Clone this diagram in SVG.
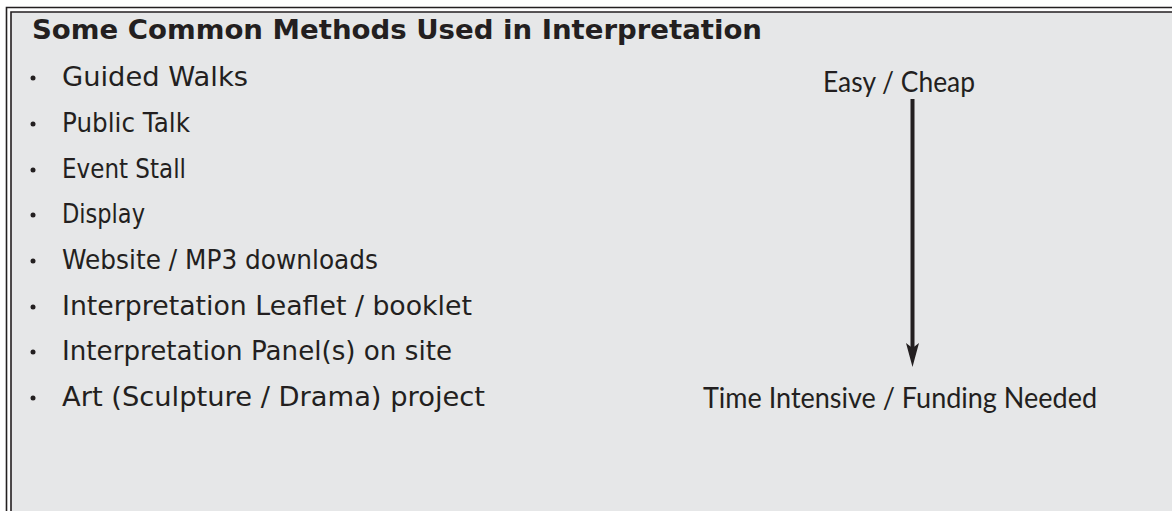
<svg xmlns="http://www.w3.org/2000/svg" width="1172" height="511" viewBox="0 0 1172 511">
<style>
.frame{fill:none;stroke:#231f20;stroke-width:1.6}
.title{font-family:"DejaVu Sans",sans-serif;font-weight:bold;font-size:26px;fill:#231f20}
.item{font-family:"DejaVu Sans",sans-serif;font-size:27px;fill:#231f20}
.label{font-family:"Lato","Open Sans",sans-serif;font-size:28px;fill:#231f20}
.bullet{fill:#231f20}
.conn{stroke:#231f20;stroke-width:4;fill:none}
</style>
<defs>
<marker id="ah" viewBox="0 0 24 13" refX="5" refY="6.5" markerWidth="24" markerHeight="13" markerUnits="userSpaceOnUse" orient="auto">
<path d="M0,0 L5,6.5 L0,13 L24,6.5 Z" fill="#231f20"/>
</marker>
</defs>
<rect x="0" y="0" width="1172" height="511" fill="#ffffff"/>
<g id="panel">
<rect x="11" y="12" width="1170" height="510" fill="#e6e7e8"/>
<path class="frame" d="M6.5,520 V7.5 H1180"/>
<path class="frame" d="M11,520 V12 H1180"/>
</g>
<g id="title">
<text class="title" x="32" y="39" textLength="730" lengthAdjust="spacingAndGlyphs">Some Common Methods Used in Interpretation</text>
</g>
<g id="list">
<circle class="bullet" cx="33" cy="78" r="2.5"/>
<text class="item" x="62" y="86" textLength="186" lengthAdjust="spacingAndGlyphs">Guided Walks</text>
<circle class="bullet" cx="33" cy="124" r="2.5"/>
<text class="item" x="62" y="132" textLength="128" lengthAdjust="spacingAndGlyphs">Public Talk</text>
<circle class="bullet" cx="33" cy="170" r="2.5"/>
<text class="item" x="62" y="178" textLength="124" lengthAdjust="spacingAndGlyphs">Event Stall</text>
<circle class="bullet" cx="33" cy="215" r="2.5"/>
<text class="item" x="62" y="223" textLength="83" lengthAdjust="spacingAndGlyphs">Display</text>
<circle class="bullet" cx="33" cy="261" r="2.5"/>
<text class="item" x="62" y="269" textLength="316" lengthAdjust="spacingAndGlyphs">Website / MP3 downloads</text>
<circle class="bullet" cx="33" cy="307" r="2.5"/>
<text class="item" x="62" y="315" textLength="410" lengthAdjust="spacingAndGlyphs">Interpretation Leaflet / booklet</text>
<circle class="bullet" cx="33" cy="352" r="2.5"/>
<text class="item" x="62" y="360" textLength="390" lengthAdjust="spacingAndGlyphs">Interpretation Panel(s) on site</text>
<circle class="bullet" cx="33" cy="398" r="2.5"/>
<text class="item" x="62" y="406" textLength="423" lengthAdjust="spacingAndGlyphs">Art (Sculpture / Drama) project</text>
</g>
<g id="easy">
<text class="label" x="823" y="92" textLength="152" lengthAdjust="spacingAndGlyphs">Easy / Cheap</text>
</g>
<g id="intensive">
<text class="label" x="703" y="408" textLength="394" lengthAdjust="spacingAndGlyphs">Time Intensive / Funding Needed</text>
</g>
<g id="connectors">
<line class="conn" x1="912.5" y1="99" x2="912.5" y2="348" marker-end="url(#ah)"/>
</g>
</svg>
